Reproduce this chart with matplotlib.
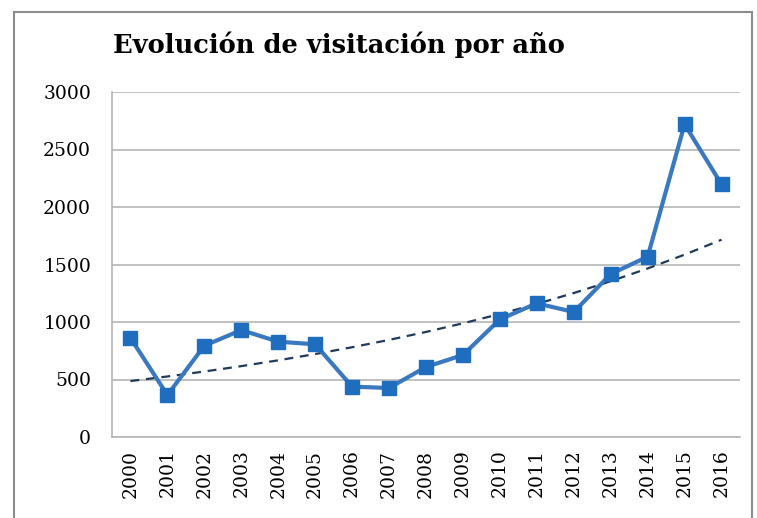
import numpy as np
import matplotlib
matplotlib.use('Agg')
import matplotlib.pyplot as plt
from matplotlib.patches import Rectangle

# Data
years = [str(y) for y in range(2000, 2017)]
visits = [861, 365, 794, 930, 829, 806, 438, 426, 609, 713, 1023, 1162, 1087, 1417, 1568, 2719, 2197]
y_ticks = [0, 500, 1000, 1500, 2000, 2500, 3000]

plt.rcParams['font.family'] = ['DejaVu Serif']

fig = plt.figure(figsize=(7.57, 5.18), dpi=100)
ax = fig.add_axes([112/757, 1 - 437/518, (740 - 112)/757, (437 - 92)/518])

# outer chart frame
fig.patches.append(Rectangle((14/757, -0.1), (752 - 14)/757, 1.1 - 12/518,
                             transform=fig.transFigure, fill=False,
                             edgecolor='#8c8c8c', lw=1.5))

x = np.arange(len(years))
ax.plot(x, visits, color='#3a78c0', lw=3, marker='s', ms=10,
        markerfacecolor='#1f6dbf', markeredgecolor='#1f6dbf', zorder=3)

# exponential trend line
b, a = np.polyfit(x, np.log(visits), 1)
ax.plot(x, np.exp(a + b*x), color='#1f3a5a', lw=1.6, ls=(0, (4, 3)), zorder=2)

ax.set_xlim(-0.5, len(years) - 0.5)
ax.set_ylim(0, 3000)
ax.set_yticks(y_ticks)
ax.set_xticks(x)
ax.set_xticklabels(years, rotation=90, fontsize=13.5)
ax.tick_params(axis='y', labelsize=13.5, length=0, pad=15)
ax.tick_params(axis='x', length=0, pad=9)
ax.grid(axis='y', color='#b5b5b5', lw=1.2)
ax.set_axisbelow(True)
for s in ['top', 'right']:
    ax.spines[s].set_visible(False)
for s in ['left', 'bottom']:
    ax.spines[s].set_color('#b5b5b5')
    ax.spines[s].set_linewidth(1.2)

fig.text(113/757, 1 - 45/518, 'Evolución de visitación por año', fontsize=18.5,
         fontweight='bold', va='center', ha='left')

fig.savefig('out.png', dpi=100)
